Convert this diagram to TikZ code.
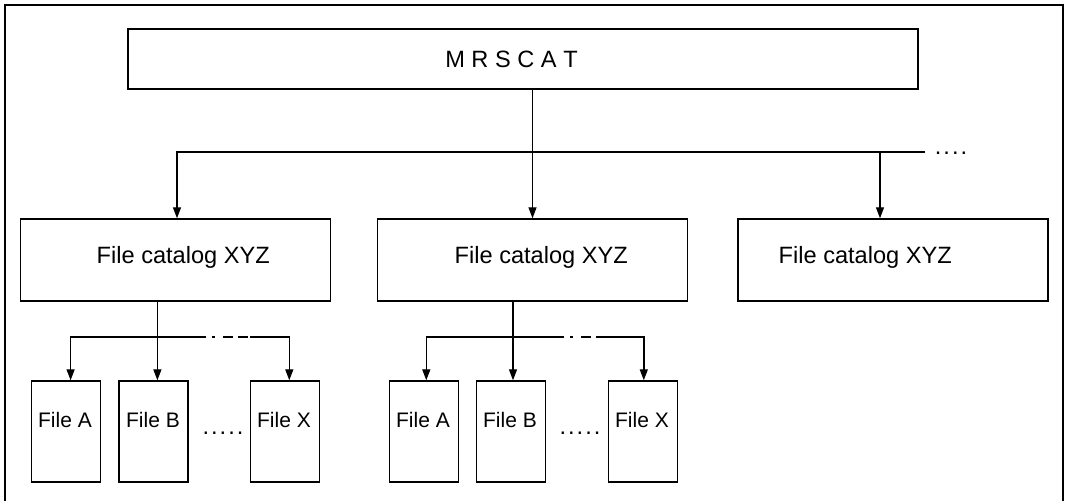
\documentclass[tikz,border=0pt]{standalone}
\usepackage{fontspec}
\setmainfont{Liberation Sans}
\usetikzlibrary{arrows.meta}

\begin{document}
\begin{tikzpicture}[x=0.5pt, y=-0.5pt, line width=0.7pt,
    catbox/.style={draw, minimum width=155pt, minimum height=41pt, inner sep=0pt},
    filebox/.style={draw, minimum width=34.5pt, minimum height=50.5pt, inner sep=0pt},
    conn/.style={-{Triangle[length=5.5pt,width=4pt]}},
    gapline/.style={dash pattern=on 0pt off 3pt on 1.5pt off 4pt on 5pt off 2.5pt on 5pt off 1pt},
    bigtxt/.style={font=\fontsize{11.8}{14}\selectfont, inner sep=0pt},
    smalltxt/.style={font=\fontsize{10.5}{12}\selectfont, inner sep=0pt}]
    \useasboundingbox (0,0) rectangle (1066,501);
    \draw (5,501) -- (5,5) -- (1063,5) -- (1063,501);

    % catalog root
    \node[draw, minimum width=395pt, minimum height=30pt, inner sep=0pt] (M) at (523,59) {};
    \node[bigtxt, anchor=base] (Mt) at (511.5,68) {M R S C A T};

    % file catalogs
    \node[catbox] (C1) at (175.5,260) {};
    \node[catbox] (C2) at (532.5,260) {};
    \node[catbox] (C3) at (893,260) {};
    \node[bigtxt, anchor=base west] (C1t) at (96,264) {File catalog XYZ};
    \node[bigtxt, anchor=base west] (C2t) at (454,264) {File catalog XYZ};
    \node[bigtxt, anchor=base west] (C3t) at (778,264) {File catalog XYZ};

    % files
    \node[filebox] (F1a) at (66,431.5) {};
    \node[filebox] (F1b) at (153.6,431.5) {};
    \node[filebox] (F1x) at (285,431.5) {};
    \node[filebox] (F2a) at (424,431.5) {};
    \node[filebox] (F2b) at (511,431.5) {};
    \node[filebox] (F2x) at (643,431.5) {};
    \node[smalltxt, anchor=base] (F1at) at (65,428) {File A};
    \node[smalltxt, anchor=base] (F1bt) at (153,428) {File B};
    \node[smalltxt, anchor=base] (F1xt) at (284,428) {File X};
    \node[smalltxt, anchor=base] (F2at) at (423,428) {File A};
    \node[smalltxt, anchor=base] (F2bt) at (510,428) {File B};
    \node[smalltxt, anchor=base] (F2xt) at (642,428) {File X};
    \node[bigtxt, anchor=base] (D1) at (223,434.5) {.\hspace{1pt}.\hspace{1pt}.\hspace{1pt}.\hspace{1pt}.};
    \node[bigtxt, anchor=base] (D2) at (580,434.5) {.\hspace{1pt}.\hspace{1pt}.\hspace{1pt}.\hspace{1pt}.};

    % root to catalogs
    \coordinate (bl) at (177,152);
    \coordinate (br) at (925,152);
    \coordinate (b3) at (880,152);
    \draw[conn] (M.south -| C2.north) -- (C2.north);
    \draw[conn] (br) -- (bl) -- (bl |- C1.north);
    \draw[conn] (b3) -- (b3 |- C3.north);
    \node[bigtxt, anchor=base] (more) at (951,154.5) {.\hspace{1pt}.\hspace{1pt}.\hspace{1pt}.};

    % catalog 1 to files
    \coordinate (s1) at (157.4,337);
    \coordinate (s1a) at (70.6,337);
    \coordinate (s1x) at (289.3,337);
    \coordinate (s1l) at (206,337);
    \coordinate (s1r) at (250,337);
    \draw[conn] (C1.south -| s1) -- (s1 |- F1b.north);
    \draw[conn] (s1l) -- (s1a) -- (s1a |- F1a.north);
    \draw[conn] (s1r) -- (s1x) -- (s1x |- F1x.north);
    \draw[gapline] (s1l) -- (s1r);

    % catalog 2 to files
    \coordinate (s2) at (513,337);
    \coordinate (s2a) at (426.3,337);
    \coordinate (s2x) at (643.8,337);
    \coordinate (s2l) at (564,337);
    \coordinate (s2r) at (603.5,337);
    \draw[conn] (C2.south -| s2) -- (s2 |- F2b.north);
    \draw[conn] (s2l) -- (s2a) -- (s2a |- F2a.north);
    \draw[conn] (s2r) -- (s2x) -- (s2x |- F2x.north);
    \draw[gapline] (s2l) -- (s2r);
\end{tikzpicture}
\end{document}
